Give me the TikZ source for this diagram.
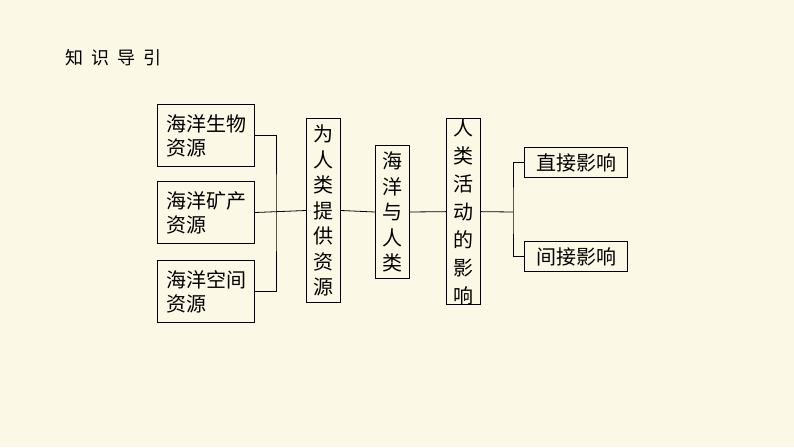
\documentclass[tikz,border=0pt]{standalone}
\usepackage{fontspec}
\newfontfamily\cjk{Noto Sans CJK SC}
\definecolor{bg}{RGB}{252,248,230}
\begin{document}
\begin{tikzpicture}[x=1pt,y=-1pt,
  bx/.style={draw,line width=1pt,inner sep=0pt,anchor=north west,font=\cjk\fontsize{20}{24}\selectfont},
  ln/.style={line width=0.8pt}]
\fill[bg] (0,0) rectangle (794,447);
\useasboundingbox (0,0) rectangle (794,447);
\node[anchor=west,font=\cjk\fontsize{18}{20}\selectfont] (t) at (62,58) {知\hspace{0.45em}识\hspace{0.45em}导\hspace{0.45em}引};
\node[bx,minimum width=97pt,minimum height=62pt,align=left] (a) at (157,104) {海洋生物\\资源};
\node[bx,minimum width=97pt,minimum height=62pt,align=left] (b) at (157,181) {海洋矿产\\资源};
\node[bx,minimum width=97pt,minimum height=62pt,align=left] (c) at (157,260) {海洋空间\\资源};
\node[bx,minimum width=34pt,minimum height=184pt,align=center,font=\cjk\fontsize{20}{25.5}\selectfont] (d) at (306,118) {为\\人\\类\\提\\供\\资\\源};
\node[bx,minimum width=34pt,minimum height=133pt,align=center,font=\cjk\fontsize{20}{25.5}\selectfont] (e) at (375,145) {海\\洋\\与\\人\\类};
\node[bx,minimum width=34pt,minimum height=184pt,align=center,font=\cjk\fontsize{20}{28}\selectfont] (f) at (446,118) {人\\类\\活\\动\\的\\影\\响};
\node[bx,minimum width=103pt,minimum height=30pt] (g) at (524,147) {直接影响};
\node[bx,minimum width=103pt,minimum height=30pt] (h) at (524,241) {间接影响};
\coordinate (j1) at (276,212);
\draw[ln] (a.east) -| (j1) |- (c.east);
\draw[ln] (b.east) -- (d.west);
\draw[ln] (d.east) -- (e.west);
\draw[ln] (e.east) -- (f.west);
\coordinate (j2) at (513,212);
\draw[ln] (f.east) -- (j2);
\draw[ln] (g.west) -| (j2) |- (h.west);
\end{tikzpicture}
\end{document}
